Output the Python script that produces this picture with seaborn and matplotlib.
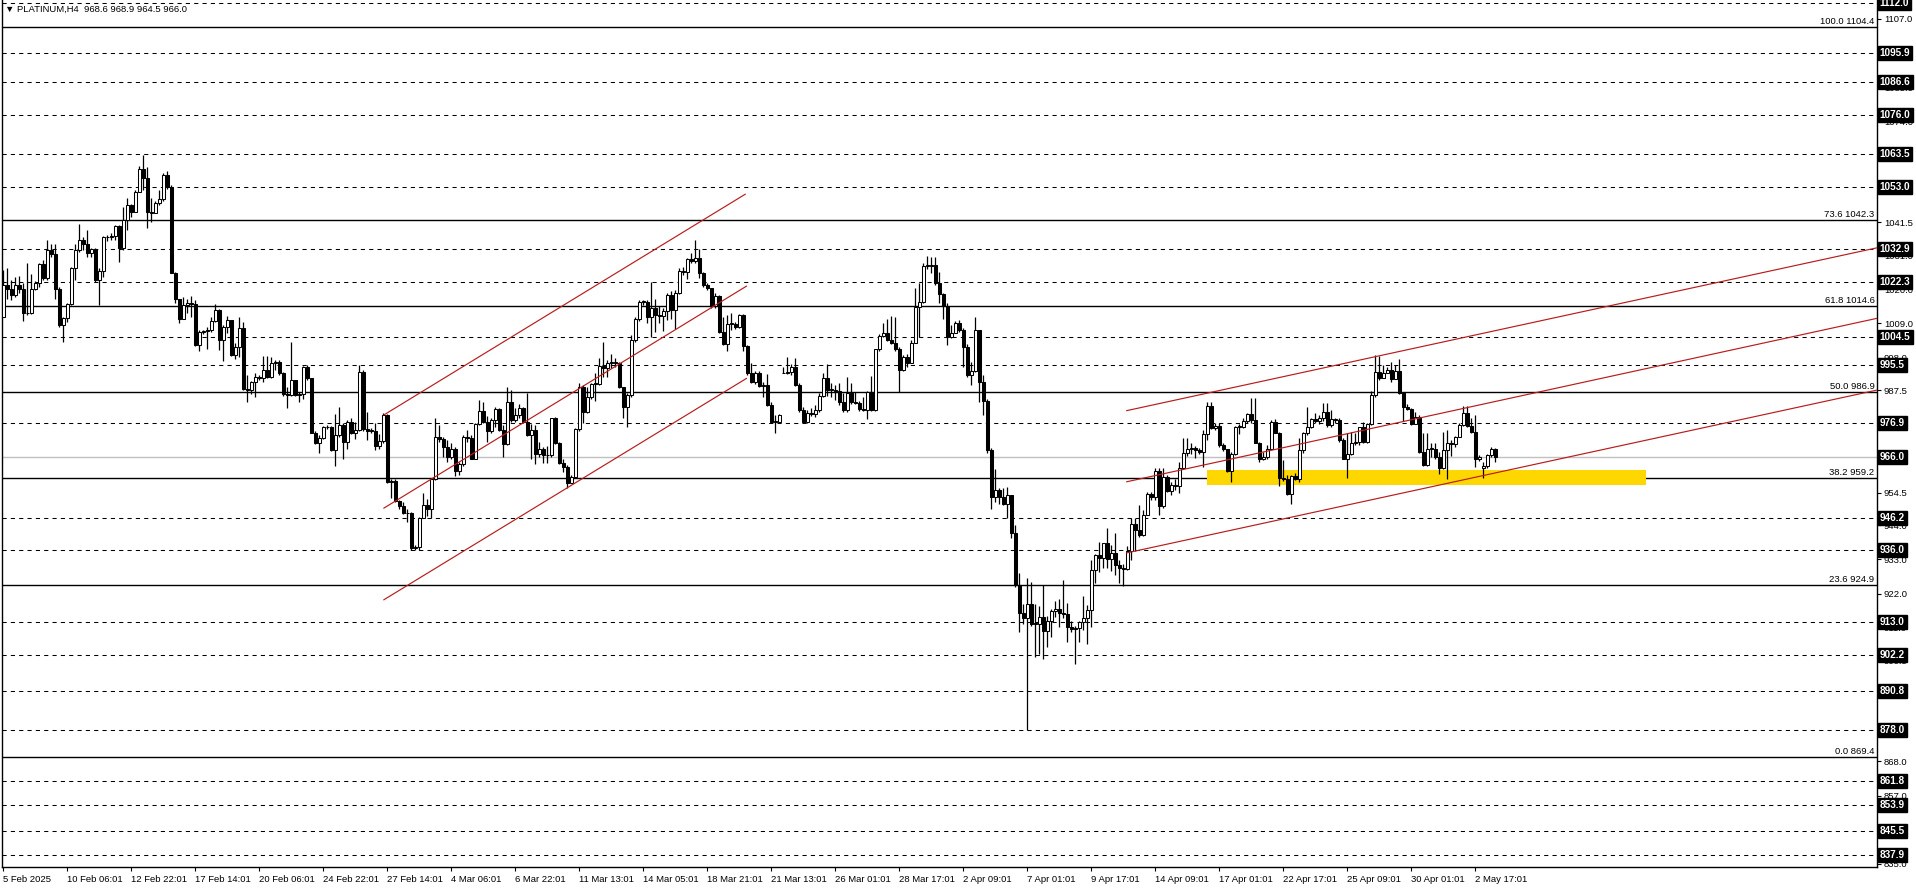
import numpy as np
import pandas as pd
import matplotlib
matplotlib.use('Agg')
import matplotlib.pyplot as plt
import matplotlib.transforms as mtransforms
import seaborn as sns

sns.set_theme(style='white')
plt.rcParams['font.family'] = ['Liberation Sans', 'DejaVu Sans']

# ---- data (PLATINUM H4) ----
closes = [
    1021.3, 1020.2, 1018.1, 1021.3, 1020.0, 1012.4, 1012.2, 1020.2, 1022.1, 1028.0,
    1023.7, 1032.6, 1031.2, 1020.2, 1008.4, 1010.6, 1015.1, 1026.9, 1032.6, 1036.0,
    1034.5, 1031.8, 1033.1, 1022.9, 1025.9, 1036.9, 1036.7, 1037.1, 1040.3, 1033.4,
    1042.2, 1047.1, 1044.9, 1051.4, 1058.7, 1055.7, 1044.7, 1044.6, 1047.6, 1048.9,
    1056.7, 1052.8, 1025.3, 1016.7, 1010.3, 1014.9, 1015.7, 1015.1, 1002.0, 1006.1,
    1006.5, 1006.8, 1009.7, 1013.3, 1003.8, 1007.9, 1010.0, 998.8, 1001.5, 1007.4,
    988.0, 987.7, 990.2, 991.6, 991.3, 994.0, 991.8, 996.3, 996.6, 992.9,
    986.4, 986.1, 990.7, 985.9, 986.4, 995.0, 991.3, 973.8, 970.6, 972.0,
    975.5, 975.5, 968.2, 973.0, 976.3, 970.9, 977.3, 973.8, 974.7, 993.4,
    974.9, 974.4, 974.5, 969.5, 971.2, 979.5, 958.0, 958.2, 951.9, 950.2,
    947.8, 948.0, 936.6, 936.9, 946.2, 950.5, 949.1, 958.8, 972.3, 971.7,
    969.1, 966.1, 968.4, 961.6, 963.7, 972.3, 972.1, 965.5, 976.6, 980.9,
    977.3, 974.4, 977.9, 981.3, 974.7, 970.1, 983.8, 977.9, 979.5, 981.6,
    977.3, 973.0, 974.7, 966.9, 968.4, 966.6, 966.5, 978.4, 970.6, 964.1,
    962.9, 957.7, 959.6, 974.9, 988.6, 980.6, 985.4, 989.5, 989.4, 995.3,
    994.5, 996.3, 996.3, 996.4, 988.4, 982.2, 985.9, 1003.6, 1010.3, 1016.0,
    1015.9, 1011.1, 1013.8, 1011.7, 1011.4, 1013.1, 1018.1, 1013.3, 1018.7, 1026.0,
    1025.6, 1029.6, 1029.2, 1029.9, 1025.3, 1021.3, 1020.3, 1014.6, 1017.8, 1006.3,
    1002.3, 1008.8, 1008.8, 1007.7, 1011.7, 1001.7, 992.9, 990.2, 993.1, 988.8,
    989.1, 982.7, 977.3, 977.3, 979.5, 992.9, 993.3, 994.8, 989.1, 981.1,
    977.3, 980.2, 979.8, 981.1, 985.6, 991.3, 987.5, 987.5, 987.2, 983.8,
    981.1, 986.5, 983.8, 983.4, 981.3, 981.1, 987.0, 981.1, 1000.6, 1004.9,
    1005.8, 1003.6, 1002.8, 1000.6, 994.0, 998.3, 996.3, 1002.8, 1014.4, 1016.0,
    1027.4, 1027.4, 1027.7, 1021.9, 1018.4, 1014.6, 1004.5, 1006.0, 1009.2, 1006.8,
    1001.3, 992.3, 993.8, 1006.8, 990.2, 984.1, 968.2, 953.0, 955.3, 953.2,
    950.8, 953.7, 941.4, 924.7, 915.8, 914.3, 918.6, 912.2, 912.2, 914.5,
    910.0, 913.3, 916.5, 917.2, 915.8, 915.6, 911.1, 910.6, 911.0, 912.9,
    914.0, 916.7, 929.6, 934.4, 933.6, 938.2, 933.0, 935.0, 931.2, 930.1,
    929.8, 935.8, 944.4, 942.4, 940.8, 947.3, 954.0, 953.0, 961.5, 950.2,
    959.4, 955.1, 956.9, 956.8, 962.3, 967.3, 968.7, 969.0, 968.2, 967.5,
    973.4, 982.4, 975.2, 975.9, 969.8, 968.4, 961.6, 966.9, 975.7, 975.7,
    977.7, 979.8, 977.9, 970.6, 965.5, 965.9, 968.7, 977.3, 973.8, 959.1,
    958.8, 954.0, 959.8, 958.8, 968.2, 973.6, 975.7, 978.1, 977.6, 978.7,
    980.6, 976.3, 978.1, 977.9, 971.4, 965.5, 967.1, 970.6, 970.7, 975.5,
    970.9, 976.6, 985.9, 993.4, 991.3, 993.1, 994.0, 991.0, 993.8, 986.7,
    982.2, 981.5, 976.6, 978.9, 967.7, 963.4, 968.7, 968.7, 965.9, 962.6,
    968.2, 970.6, 970.1, 972.3, 976.3, 980.2, 975.9, 974.1, 965.2, 966.0,
    963.1, 966.6, 968.6, 966.0,
]
highs = [
    1026.1, 1026.7, 1022.9, 1024.0, 1024.2, 1021.9, 1028.3, 1024.9, 1022.7, 1028.3,
    1029.4, 1035.8, 1034.5, 1034.5, 1020.8, 1011.1, 1015.7, 1027.2, 1034.7, 1041.0,
    1036.9, 1039.2, 1033.4, 1033.4, 1026.9, 1037.1, 1037.4, 1038.2, 1040.6, 1040.6,
    1046.5, 1049.2, 1047.3, 1051.9, 1059.6, 1063.2, 1059.4, 1049.2, 1048.5, 1051.9,
    1057.5, 1058.0, 1053.5, 1025.6, 1016.7, 1017.6, 1016.7, 1017.8, 1016.5, 1006.8,
    1007.0, 1007.9, 1010.9, 1015.1, 1013.5, 1008.4, 1011.3, 1010.0, 1002.8, 1011.1,
    1009.5, 992.3, 990.5, 992.9, 992.3, 998.5, 998.5, 998.2, 997.2, 997.2,
    993.4, 988.6, 1003.1, 990.9, 987.0, 995.2, 995.6, 991.5, 974.4, 973.0,
    976.0, 976.3, 976.0, 979.8, 982.2, 976.8, 977.9, 978.4, 977.3, 995.6,
    994.0, 980.6, 975.2, 977.0, 973.4, 980.0, 979.8, 958.8, 958.8, 952.1,
    951.6, 949.4, 948.4, 937.6, 946.8, 954.3, 952.6, 959.1, 978.4, 976.3,
    972.3, 971.4, 970.4, 969.1, 964.5, 973.0, 974.7, 973.0, 976.8, 984.3,
    983.8, 979.2, 978.4, 982.2, 981.6, 976.3, 988.6, 987.5, 981.6, 983.2,
    982.2, 986.5, 976.6, 976.3, 970.9, 969.3, 969.5, 978.7, 978.9, 970.9,
    965.5, 963.4, 960.2, 975.2, 989.9, 989.1, 988.6, 989.7, 992.9, 997.7,
    1003.1, 997.2, 999.3, 998.0, 996.7, 988.6, 986.5, 1005.2, 1010.9, 1016.5,
    1016.5, 1016.5, 1022.2, 1017.0, 1014.6, 1013.8, 1018.9, 1019.5, 1019.7, 1026.7,
    1027.2, 1030.2, 1031.5, 1035.8, 1033.1, 1025.6, 1022.1, 1020.5, 1018.7, 1018.1,
    1011.1, 1011.7, 1012.2, 1009.5, 1012.0, 1011.9, 1002.0, 996.1, 993.8, 993.8,
    990.2, 992.7, 983.8, 979.5, 979.8, 995.0, 998.3, 995.9, 997.7, 989.7,
    982.2, 981.1, 981.6, 982.7, 986.5, 993.1, 995.9, 989.7, 989.1, 989.7,
    986.5, 991.8, 989.7, 987.0, 984.1, 985.4, 987.3, 992.0, 1000.9, 1005.6,
    1009.0, 1010.3, 1011.4, 1011.1, 1001.3, 998.8, 999.3, 1003.8, 1020.3, 1021.9,
    1028.3, 1030.7, 1030.5, 1030.5, 1025.6, 1018.9, 1015.4, 1008.4, 1009.8, 1010.1,
    1007.4, 1002.5, 996.6, 1010.9, 997.2, 992.4, 984.5, 968.8, 962.0, 955.9,
    955.9, 956.2, 953.7, 944.0, 928.7, 918.6, 926.9, 925.8, 918.8, 918.0,
    924.7, 914.8, 917.2, 919.7, 920.4, 926.4, 919.0, 913.3, 911.5, 913.3,
    921.2, 918.3, 932.8, 934.9, 938.7, 938.4, 943.0, 937.6, 941.6, 932.8,
    931.7, 937.3, 946.2, 946.2, 950.5, 948.9, 954.8, 954.8, 962.3, 962.3,
    962.3, 960.2, 958.0, 958.8, 964.5, 972.0, 972.0, 970.4, 969.5, 968.8,
    974.6, 983.8, 983.8, 977.0, 977.0, 970.4, 968.7, 967.7, 975.9, 976.6,
    978.4, 980.2, 984.9, 984.9, 970.9, 967.7, 969.8, 977.9, 978.1, 974.1,
    965.0, 960.2, 960.2, 960.7, 972.0, 974.1, 982.2, 978.7, 980.0, 979.5,
    983.5, 983.5, 981.1, 978.7, 978.4, 972.0, 973.8, 974.1, 973.6, 975.7,
    977.3, 976.8, 987.3, 998.8, 998.5, 995.6, 994.8, 996.7, 995.6, 997.4,
    986.7, 983.0, 981.6, 980.6, 979.5, 973.6, 973.6, 970.4, 970.4, 967.7,
    974.1, 974.6, 971.6, 972.7, 976.8, 982.4, 982.4, 978.7, 979.5, 966.6,
    964.5, 967.1, 969.3, 968.9,
]
lows = [
    1011.1, 1017.0, 1016.5, 1017.6, 1018.8, 1009.8, 1011.7, 1012.0, 1019.9, 1020.8,
    1023.1, 1023.1, 1030.4, 1016.7, 1007.9, 1002.9, 1009.5, 1014.9, 1023.1, 1032.0,
    1032.6, 1030.4, 1030.4, 1022.4, 1014.9, 1024.0, 1035.6, 1035.8, 1035.8, 1028.8,
    1032.6, 1039.2, 1043.1, 1044.9, 1051.2, 1051.9, 1039.8, 1041.7, 1044.4, 1047.1,
    1048.5, 1052.4, 1025.1, 1015.6, 1009.0, 1011.7, 1012.2, 1011.1, 1001.7, 1000.2,
    1005.5, 1000.6, 1006.3, 1009.5, 1000.4, 996.8, 1005.8, 998.5, 997.4, 998.2,
    987.7, 983.8, 986.4, 985.4, 990.7, 990.2, 991.3, 991.3, 994.0, 992.3,
    985.6, 981.9, 985.6, 985.6, 983.8, 984.8, 990.7, 973.6, 970.1, 967.4,
    971.7, 974.9, 968.0, 963.1, 972.5, 965.2, 968.7, 973.4, 971.7, 974.4,
    974.4, 971.4, 973.8, 968.2, 968.7, 970.6, 957.7, 952.7, 951.6, 949.4,
    947.6, 945.1, 936.2, 936.2, 936.2, 949.4, 947.0, 946.2, 958.6, 970.9,
    966.1, 964.5, 965.5, 959.8, 960.2, 963.0, 970.9, 965.2, 965.2, 976.3,
    976.8, 970.9, 973.6, 975.5, 974.4, 966.1, 969.8, 977.3, 977.3, 978.4,
    976.8, 972.7, 965.5, 963.7, 966.1, 964.1, 963.9, 965.9, 970.1, 963.7,
    961.2, 955.9, 957.5, 959.4, 974.4, 976.8, 980.2, 984.5, 984.1, 989.1,
    991.8, 991.6, 994.5, 995.0, 988.1, 978.4, 975.5, 985.4, 1003.1, 1009.9,
    1014.9, 1009.0, 1004.5, 1006.3, 1009.0, 1006.6, 1010.1, 1010.3, 1007.1, 1018.4,
    1024.6, 1023.2, 1028.5, 1028.3, 1023.5, 1020.8, 1019.7, 1014.1, 1014.1, 1006.0,
    1002.0, 1000.2, 1006.9, 1007.1, 1007.4, 1000.2, 992.4, 989.7, 989.5, 988.4,
    985.2, 982.4, 976.8, 973.8, 977.2, 992.9, 992.7, 992.4, 988.8, 980.6,
    976.8, 976.8, 979.2, 978.9, 980.6, 985.4, 985.6, 985.4, 984.3, 982.7,
    980.6, 980.6, 983.2, 983.0, 980.9, 980.9, 978.1, 980.9, 980.9, 1000.0,
    1004.7, 1003.4, 1002.5, 1000.2, 987.0, 993.8, 995.0, 996.1, 1002.6, 1004.5,
    1015.6, 1026.4, 1025.3, 1021.3, 1015.6, 1010.3, 1002.0, 1004.2, 1005.8, 1006.3,
    995.0, 991.8, 989.1, 993.4, 983.8, 979.5, 967.3, 949.4, 951.6, 951.0,
    950.5, 946.2, 939.8, 924.2, 909.7, 912.2, 878.1, 911.5, 901.5, 902.5,
    901.1, 904.9, 907.9, 914.5, 911.1, 914.0, 906.5, 909.7, 899.5, 906.5,
    910.2, 905.9, 911.3, 925.5, 929.0, 930.1, 930.4, 929.4, 928.0, 925.5,
    924.5, 929.6, 932.8, 935.8, 940.3, 940.5, 948.9, 952.3, 952.3, 947.3,
    949.7, 954.8, 953.7, 955.3, 954.3, 962.0, 966.3, 967.1, 965.8, 967.1,
    962.8, 971.6, 974.9, 974.7, 969.3, 968.0, 961.2, 958.0, 966.6, 973.4,
    975.2, 976.8, 976.8, 970.4, 964.5, 965.0, 965.2, 968.4, 973.6, 956.6,
    958.3, 953.7, 950.8, 958.6, 958.0, 967.3, 973.0, 975.2, 976.8, 976.6,
    977.7, 975.7, 975.7, 976.8, 970.9, 965.2, 959.1, 966.6, 969.8, 969.8,
    970.4, 970.6, 976.3, 985.4, 990.8, 991.3, 993.1, 990.2, 991.0, 986.2,
    977.7, 981.1, 976.3, 976.8, 967.4, 963.1, 963.1, 966.1, 965.5, 960.5,
    962.0, 958.8, 966.3, 969.1, 972.3, 975.9, 975.5, 973.6, 962.9, 964.8,
    959.1, 962.6, 965.9, 964.5,
]
# opens follow the previous close, except where the session gapped
gap_opens = {0: 1011.1, 195: 992.9, 370: 962.3}

date_labels = ['5 Feb 2025', '10 Feb 06:01', '12 Feb 22:01', '17 Feb 14:01', '20 Feb 06:01',
               '24 Feb 22:01', '27 Feb 14:01', '4 Mar 06:01', '6 Mar 22:01', '11 Mar 13:01',
               '14 Mar 05:01', '18 Mar 21:01', '21 Mar 13:01', '26 Mar 01:01', '28 Mar 17:01',
               '2 Apr 09:01', '7 Apr 01:01', '9 Apr 17:01', '14 Apr 09:01', '17 Apr 01:01',
               '22 Apr 17:01', '25 Apr 09:01', '30 Apr 01:01', '2 May 17:01']

fib_pcts = ['100.0', '73.6', '61.8', '50.0', '38.2', '23.6', '0.0']
fib_levels = [1104.4, 1042.3, 1014.6, 986.9, 959.2, 924.9, 869.4]
dashed_levels = [1112.0, 1095.9, 1086.6, 1076.0, 1063.5, 1053.0, 1032.9, 1022.3, 1004.5,
                 995.5, 976.9, 946.2, 936.0, 913.0, 902.2, 890.8, 878.0, 861.8, 853.9,
                 845.5, 837.9]
bid_level = 966.0
axis_ticks = [1107.0, 1096.0, 1085.0, 1074.0, 1063.0, 1052.5, 1041.5, 1031.0, 1020.0,
              1009.0, 998.0, 987.5, 976.5, 965.5, 954.5, 944.0, 933.0, 922.0, 911.0,
              900.5, 889.5, 878.5, 868.0, 857.0, 846.0, 835.0]

# trend channels: (bar0, price0, bar1, price1)
channel_feb = [(95.1, 979.5, 185.5, 1050.6),
               (95.1, 949.5, 185.8, 1021.0),
               (95.1, 920.0, 185.8, 991.3)]
channel_apr = [(280.8, 980.9, 468.3, 1033.3),
               (280.8, 958.0, 468.3, 1010.6),
               (280.8, 935.1, 468.3, 987.5)]
zone = (300.9, 410.7, 956.9, 961.8)  # bar from, bar to, price low, price high

df = pd.DataFrame({'close': closes, 'high': highs, 'low': lows})
df['open'] = df['close'].shift(1)
for k, v in gap_opens.items():
    df.loc[k, 'open'] = v
df['high'] = df[['high', 'open', 'close']].max(axis=1)
df['low'] = df[['low', 'open', 'close']].min(axis=1)
x = np.arange(len(df))

fig = plt.figure(figsize=(19.16, 8.88), dpi=100)
ax = fig.add_axes([2 / 1916, 21 / 888, 1875 / 1916, 867 / 888])
ax.set_xlim(-0.33, 468.4)
ax.set_ylim(834.0, 1113.1)
ax.set_facecolor('white')

# horizontal levels
for lv in dashed_levels:
    ax.axhline(lv, color='black', lw=0.75, ls=(0, (4, 4)), zorder=1)
for lv in fib_levels:
    ax.axhline(lv, color='black', lw=1.0, zorder=1)
ax.axhline(bid_level, color='#c0c0c0', lw=1.0, zorder=1)

# yellow support zone
ax.fill_between([zone[0], zone[1]], zone[2], zone[3], color='#ffd700', lw=0, zorder=1.5)

# candles
up = df['close'] >= df['open']
ax.vlines(x, df['low'], df['high'], color='black', lw=0.9, zorder=2)
body_h = (df['close'] - df['open']).abs().clip(lower=0.25)
body_b = df[['open', 'close']].min(axis=1)
ax.bar(x[up], body_h[up], bottom=body_b[up], width=0.72, color='white',
       edgecolor='black', linewidth=0.75, zorder=3)
ax.bar(x[~up], body_h[~up], bottom=body_b[~up], width=0.72, color='black',
       edgecolor='black', linewidth=0.75, zorder=3)

# channels
for x0, y0, x1, y1 in channel_feb + channel_apr:
    ax.plot([x0, x1], [y0, y1], color='#b81c1c', lw=0.85, zorder=4)

# fib labels
for pct, lv in zip(fib_pcts, fib_levels):
    ax.text(467.8, lv + 0.35, f'{pct} {lv:.1f}', ha='right', va='bottom',
            fontsize=6.8, color='black', zorder=5)

# axes cosmetics
ax.spines['top'].set_visible(False)
for s in ['left', 'right', 'bottom']:
    ax.spines[s].set_color('black')
    ax.spines[s].set_linewidth(1.0)
ax.grid(False)

ax.yaxis.tick_right()
ax.set_yticks(axis_ticks)
ax.set_yticklabels([f'{v:.1f}' for v in axis_ticks], fontsize=6.8)
ax.tick_params(axis='y', which='both', direction='out', length=3, width=0.8,
               pad=2, colors='black', right=True, left=False)

ax.set_xticks(np.arange(0, 16 * len(date_labels), 16))
ax.set_xticklabels(date_labels, fontsize=6.8, ha='left')
ax.tick_params(axis='x', direction='out', length=3, width=0.8, pad=3,
               colors='black', bottom=True)

# price boxes on the right axis (they cover the axis labels behind them)
trans = mtransforms.blended_transform_factory(ax.transAxes, ax.transData)
for lv in dashed_levels + [bid_level]:
    ax.text(1.0015, lv, f'{lv:.1f}', transform=trans, ha='left', va='center',
            fontsize=7.2, color='white', fontweight='bold', clip_on=False, zorder=6,
            bbox=dict(boxstyle='square,pad=0.2', fc='black', ec='black'))

fig.text(5 / 1916, 1 - 9 / 888, '\u25bc PLATINUM,H4  968.6 968.9 964.5 966.0',
         fontsize=6.8, color='black', va='center', ha='left')

fig.savefig('out.png', dpi=100, facecolor='white')
